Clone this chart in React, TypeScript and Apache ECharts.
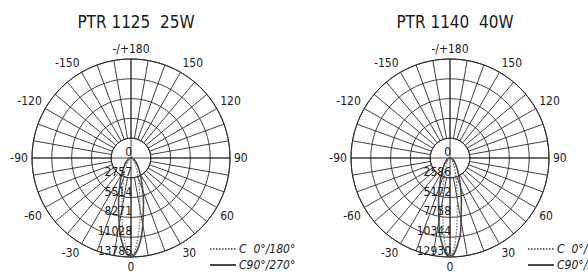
import React, { useEffect, useRef } from "react";
import * as echarts from "echarts";

const FONT = '"Liberation Sans Narrow", "DejaVu Sans Condensed", "Roboto", sans-serif';

const titles = ["PTR 1125  25W", "PTR 1140  40W"];
const seriesNames = ["C  0°/180°", "C90°/270°"];
const angleTicks = [0, 30, 60, 90, 120, 150, -150, -120, -90, -60, -30];

// radial tick steps (cd)
const ringStepLeft = 2757;
const ringMaxLeft = 13785;
const ringStepRight = 2586;
const ringMaxRight = 12930;

// gamma angles (deg)
const gammas = [-90, -80, -70, -60, -50, -40, -30, -25, -20, -15, -10, -5, 0, 5, 10, 15, 20, 25, 30, 40, 50, 60, 70, 80, 90];

// PTR 1125 25W
const left_C0 = [0, 80, 170, 300, 500, 820, 1460, 2040, 2960, 4530, 7210, 11090, 13500, 11090, 7210, 4530, 2960, 2040, 1460, 820, 500, 300, 170, 80, 0];
const left_C90 = [0, 170, 340, 570, 920, 1490, 2550, 3450, 4770, 6710, 9410, 12350, 13700, 12350, 9410, 6710, 4770, 3450, 2550, 1490, 920, 570, 340, 170, 0];

// PTR 1140 40W
const right_C0 = [0, 40, 100, 200, 330, 540, 980, 1380, 2060, 3280, 5590, 9630, 12650, 9630, 5590, 3280, 2060, 1380, 980, 540, 330, 200, 100, 40, 0];
const right_C90 = [0, 130, 260, 460, 740, 1200, 2080, 2840, 3980, 5750, 8330, 11370, 12850, 11370, 8330, 5750, 3980, 2840, 2080, 1200, 740, 460, 260, 130, 0];

const GRID = "#2a2a2a";
const TXT = "#1a1a1a";

function build(cx: number, cy: number, R: number, step: number, max: number, idx: number) {
  const inner = (R * step) / max;
  const angleGrid = {
    polarIndex: idx * 2,
    type: "value",
    min: -180,
    max: 180,
    interval: 10,
    startAngle: 90,
    clockwise: false,
    axisLine: { show: true, lineStyle: { color: GRID, width: 1 } },
    axisTick: { show: false },
    splitLine: { show: true, lineStyle: { color: GRID, width: 0.9 } },
    axisLabel: {
      show: true,
      margin: 4,
      color: TXT,
      fontFamily: FONT,
      fontSize: 12,
      formatter: (v: number) => {
        if (v === -180 || v === 180) return "-/+180";
        return angleTicks.indexOf(v) >= 0 ? String(v) : "";
      },
    },
  };
  const angleCross = {
    polarIndex: idx * 2 + 1,
    type: "value",
    min: 0,
    max: 360,
    interval: 90,
    startAngle: 270,
    clockwise: false,
    axisLine: { show: false },
    axisTick: { show: false },
    axisLabel: { show: false },
    splitLine: { show: true, lineStyle: { color: GRID, width: 0.9 } },
  };
  const radGrid = {
    polarIndex: idx * 2,
    type: "value",
    min: step,
    max: max,
    interval: step,
    axisLine: { show: false },
    axisTick: { show: false },
    axisLabel: { show: false },
    splitLine: { show: true, lineStyle: { color: GRID, width: 0.9 } },
  };
  const radData = {
    polarIndex: idx * 2 + 1,
    type: "value",
    min: 0,
    max: max,
    interval: step,
    z: 10,
    axisLine: { show: false },
    axisTick: { show: false },
    splitLine: { show: false },
    axisLabel: {
      show: true,
      color: TXT,
      fontFamily: FONT,
      fontSize: 12,
      margin: 1,
      align: "right",
      verticalAlign: "bottom",
      formatter: (v: number) => String(v),
    },
  };
  return {
    polars: [
      { center: [cx, cy], radius: [inner, R] },
      { center: [cx, cy], radius: [0, R] },
    ],
    angle: [angleGrid, angleCross],
    radius: [radGrid, radData],
  };
}

export default function App() {
  const ref = useRef<HTMLDivElement>(null);
  useEffect(() => {
    document.body.style.margin = "0";
    if (!ref.current) return;
    const chart = echarts.init(ref.current, undefined, { renderer: "svg" });
    const L = build(131, 158, 99, ringStepLeft, ringMaxLeft, 0);
    const Rr = build(450, 158, 99, ringStepRight, ringMaxRight, 1);
    const mk = (name: string, vals: number[], polarIndex: number, dotted: boolean) => ({
      type: "line",
      name,
      coordinateSystem: "polar",
      polarIndex,
      smooth: true,
      symbol: "none",
      z: 5,
      clip: false,
      lineStyle: dotted
        ? { color: "#666", width: 1.2, type: [1.5, 1.5] }
        : { color: "#4a4a4a", width: 1.6, type: "solid" },
      itemStyle: { color: dotted ? "#666" : "#4a4a4a" },
      data: vals.map((v, i) => [v, gammas[i]]),
    });
    const legendBase = {
      orient: "vertical",
      top: 243,
      itemWidth: 26,
      itemHeight: 10,
      itemGap: 4,
      selectedMode: false,
      data: seriesNames,
      itemStyle: { opacity: 0 },
      textStyle: { fontFamily: FONT, fontSize: 12, fontStyle: "italic", color: TXT, padding: [0, 0, 0, -2] },
      padding: 0,
    };
    chart.setOption({
      animation: false,
      backgroundColor: "#fff",
      title: titles.map((t, i) => ({
        text: t,
        left: i === 0 ? 131 : 450,
        top: 8,
        textAlign: "center",
        textStyle: { fontFamily: FONT, fontSize: 17, fontWeight: "normal", color: TXT },
      })),
      legend: [
        { ...legendBase, left: 209 },
        { ...legendBase, left: 527 },
      ],
      polar: [...L.polars, ...Rr.polars],
      angleAxis: [...L.angle, ...Rr.angle],
      radiusAxis: [...L.radius, ...Rr.radius],
      series: [
        mk(seriesNames[0], left_C0, 1, true),
        mk(seriesNames[1], left_C90, 1, false),
        mk(seriesNames[0], right_C0, 3, true),
        mk(seriesNames[1], right_C90, 3, false),
      ],
    });
    return () => chart.dispose();
  }, []);
  return <div ref={ref} style={{ width: 588, height: 274 }} />;
}
